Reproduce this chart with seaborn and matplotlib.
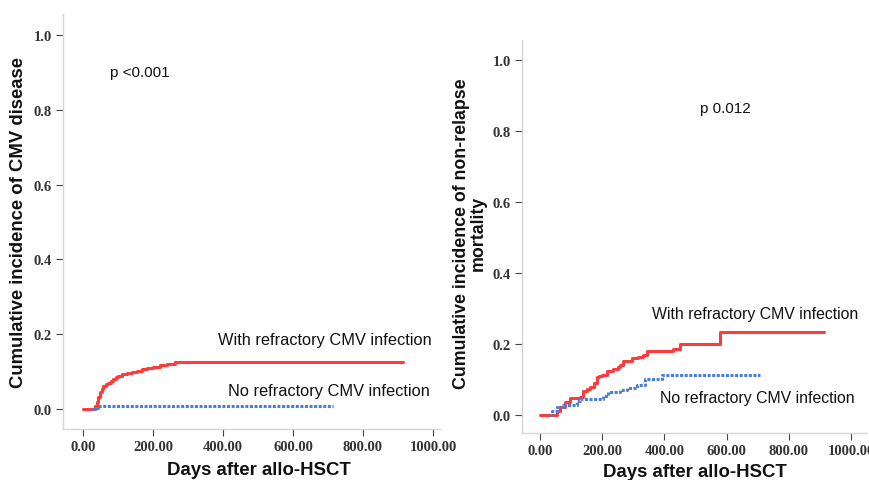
import numpy as np
import pandas as pd
import matplotlib
matplotlib.use("Agg")
import matplotlib.pyplot as plt
import seaborn as sns

# ---- data ----
cmv_red_days = [0, 26, 33, 39, 44, 49, 54, 58, 65, 72, 80, 87, 94, 101, 112, 125, 140, 153, 168, 182, 200, 220, 240, 263, 915]
cmv_red_ci   = [0, 0.0, 0.008, 0.018, 0.032, 0.045, 0.055, 0.062, 0.066, 0.070, 0.075, 0.080, 0.085, 0.089, 0.093, 0.096, 0.099, 0.102, 0.107, 0.111, 0.114, 0.118, 0.122, 0.126, 0.126]
cmv_blue_days = [25, 35, 43, 714]
cmv_blue_ci   = [0.0, 0.004, 0.008, 0.008]

nrm_red_days = [0, 43, 53, 64, 80, 96, 129, 139, 150, 161, 172, 182, 190, 198, 214, 236, 250, 257, 268, 295, 316, 332, 343, 429, 450, 579, 913]
nrm_red_ci   = [0, 0.0, 0.012, 0.022, 0.036, 0.047, 0.050, 0.068, 0.072, 0.078, 0.090, 0.106, 0.110, 0.113, 0.125, 0.130, 0.136, 0.141, 0.153, 0.160, 0.164, 0.169, 0.181, 0.186, 0.200, 0.233, 0.233]
nrm_blue_days = [32, 38, 54, 75, 118, 129, 204, 220, 257, 279, 311, 338, 391, 707]
nrm_blue_ci   = [0.0, 0.012, 0.022, 0.028, 0.038, 0.045, 0.054, 0.064, 0.070, 0.076, 0.085, 0.101, 0.111, 0.111]

groups = ["With refractory CMV infection", "No refractory CMV infection"]
x_ticks = [0, 200, 400, 600, 800, 1000]
x_ticklabels = ["0.00", "200.00", "400.00", "600.00", "800.00", "1000.00"]
y_ticks = [0.0, 0.2, 0.4, 0.6, 0.8, 1.0]
y_ticklabels = ["0.0", "0.2", "0.4", "0.6", "0.8", "1.0"]

def make_df(rd, rc, bd, bc):
    return pd.concat([
        pd.DataFrame({"day": rd, "ci": rc, "group": groups[0]}),
        pd.DataFrame({"day": bd, "ci": bc, "group": groups[1]}),
    ], ignore_index=True)

df_cmv = make_df(cmv_red_days, cmv_red_ci, cmv_blue_days, cmv_blue_ci)
df_nrm = make_df(nrm_red_days, nrm_red_ci, nrm_blue_days, nrm_blue_ci)

sns.set_theme(style="white")
plt.rcParams["font.family"] = ["Liberation Sans", "DejaVu Sans"]

W, H = 869, 481
fig = plt.figure(figsize=(W / 100, H / 100), dpi=100)

def px_axes(l, t, r, b):
    return fig.add_axes([l / W, 1 - b / H, (r - l) / W, (b - t) / H])

ax1 = px_axes(63, 15, 440, 430)
ax2 = px_axes(522, 41, 866, 434)

palette = {groups[0]: "#ff3b3b", groups[1]: "#4a7fd6"}
dashes = {groups[0]: "", groups[1]: (1.0, 0.5)}

for ax, df in [(ax1, df_cmv), (ax2, df_nrm)]:
    sns.lineplot(data=df, x="day", y="ci", hue="group", style="group",
                 palette=palette, dashes=dashes, estimator=None, sort=False,
                 drawstyle="steps-post", linewidth=2.2, legend=False, ax=ax)
    for s in ["top", "right"]:
        ax.spines[s].set_visible(False)
    for s in ["left", "bottom"]:
        ax.spines[s].set_color("#d4d4d4")
        ax.spines[s].set_linewidth(1.0)
    ax.set_xticks(x_ticks)
    ax.set_xticklabels(x_ticklabels)
    ax.set_yticks(y_ticks)
    ax.set_yticklabels(y_ticklabels)
    ax.tick_params(axis="both", which="major", direction="out", length=5,
                   width=0.8, color="#444444", labelcolor="#333333", pad=3,
                   bottom=True, left=True)
    for lab in ax.get_xticklabels() + ax.get_yticklabels():
        lab.set_fontfamily(["Liberation Serif", "DejaVu Serif"])
        lab.set_fontweight("bold")
        lab.set_fontsize(10.5)
    ax.set_xlabel("Days after allo-HSCT", fontsize=13.4, fontweight="bold", color="#111111")
    ax.xaxis.label.set_va("center")

ax1.set_xlim(-57, 1020)
ax1.set_ylim(-0.053, 1.056)
ax2.set_xlim(-58, 1048)
ax2.set_ylim(-0.051, 1.056)

ax1.set_ylabel("Cumulative incidence of CMV disease", fontsize=13.3, fontweight="bold", color="#111111")
ax2.set_ylabel("Cumulative incidence of non-relapse\nmortality", fontsize=12.8, fontweight="bold",
               color="#111111", linespacing=0.95, multialignment="center")
ax1.yaxis.label.set_va("center")
ax2.yaxis.label.set_va("center")
ax1.xaxis.set_label_coords(0.52, -0.097)
ax2.xaxis.set_label_coords(0.503, -0.098)
ax1.yaxis.set_label_coords(-0.119, 0.50)
ax2.yaxis.set_label_coords(-0.152, 0.51)

tk = dict(color="#111111", va="center")
ax1.text(77, 0.90, "p <0.001", ha="left", fontsize=11, **tk)
ax1.text(997, 0.187, groups[0], ha="right", fontsize=11.8, **tk)
ax1.text(991, 0.051, groups[1], ha="right", fontsize=11.8, **tk)
ax2.text(514, 0.865, "p 0.012", ha="left", fontsize=11, **tk)
ax2.text(1022, 0.287, groups[0], ha="right", fontsize=11.4, **tk)
ax2.text(1013, 0.048, groups[1], ha="right", fontsize=11.4, **tk)

fig.savefig("out.png", dpi=100, facecolor="white")
